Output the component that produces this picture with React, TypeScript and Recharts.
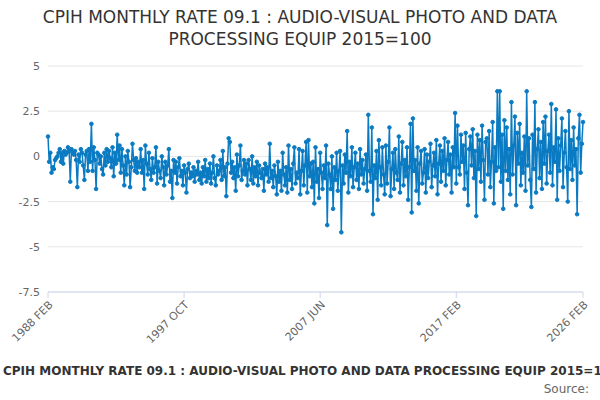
import { LineChart, Line, XAxis, YAxis, CartesianGrid } from "recharts";

const startYear = 1988;
const monthNames = ["JAN", "FEB", "MAR", "APR", "MAY", "JUN", "JUL", "AUG", "SEP", "OCT", "NOV", "DEC"];

// monthly rate, Feb 1988 .. Feb 2026 (one row per Feb..Jan year)
const rates = [
  1.1, -0.3, 0.2, -0.9, -0.6, -0.7, -0.2, -0.1, 0.0, 0.2, 0.4, -0.3,
  0.2, -0.4, 0.3, 0.1, 0.2, 0.5, 0.3, -1.4, 0.4, 0.2, 0.1, 0.3,
  -0.2, -1.7, 0.1, -0.3, 0.4, 0.2, -0.5, -1.3, 0.1, 0.3, -0.8, 0.4,
  -0.3, 1.8, -0.8, 0.5, -0.2, -1.8, 0.2, 0.1, -0.4, 0.0, -0.7, -1.0,
  0.2, -0.5, 0.4, -0.3, 0.3, -0.1, -0.6, 0.5, -1.1, 0.2, -0.4, 1.2,
  -0.2, 0.6, -0.9, 0.4, -0.5, -1.6, 0.0, -1.0, 0.3, -0.3, -1.7, -0.6,
  0.7, -0.2, -0.8, -0.1, -0.9, -0.3, -0.6, 0.4, -0.9, -0.2, -1.8, 0.6,
  -0.4, -1.0, 0.2, -0.7, -1.3, -0.1, -0.9, -0.6, 0.5, -1.5, -0.3, -0.8,
  -1.2, 0.0, -0.6, -1.6, -0.3, -1.0, -0.5, 0.4, -1.4, -0.8, -2.3, -0.2,
  -0.9, -0.3, -1.5, -0.6, -0.1, -1.1, -0.8, -1.6, -0.5, -0.9, -2.0, -0.7,
  -0.4, -1.2, -0.9, -1.1, -0.6, -1.4, -0.8, -1.0, -0.3, -1.3, -0.9, -1.5,
  -0.6, -1.1, -0.2, -1.4, -0.7, -1.2, -0.4, -1.5, -0.9, 0.0, -1.2, -1.6,
  -0.5, -1.0, -0.8, -0.2, -1.3, 0.3, -1.1, -0.6, -2.2, -0.4, 1.0, 0.8,
  -0.9, -0.3, -1.2, -0.6, -1.9, 0.1, -1.1, -0.5, 0.6, -1.3, -0.8, -0.2,
  -1.0, -0.4, -1.6, -0.2, -0.7, -1.3, 0.0, -1.5, -0.6, -1.1, -0.3, -1.6,
  -0.5, -0.9, -1.2, -0.7, -1.9, -0.4, -1.0, -0.6, -1.4, 0.7, -1.2, -0.8,
  -1.7, -0.5, -1.1, -2.1, -0.3, -1.4, -0.8, -1.9, 0.2, -1.0, -1.6, -0.6,
  -2.0, 0.6, -1.3, -0.7, -1.8, -0.4, 0.5, -1.5, -0.9, -1.2, 0.4, -2.1,
  -0.8, 0.3, -1.6, -0.5, 0.8, -2.0, 0.9, -1.1, -0.4, -1.7, -0.3, -2.6,
  0.5, -1.4, -0.7, -2.3, 0.2, -0.9, -1.8, -0.5, -1.2, 0.6, -3.8, -0.4,
  -1.0, -1.8, 0.0, -2.9, -0.6, -1.3, 0.2, -1.9, -0.8, 0.3, -4.2, -0.5,
  -1.5, 0.1, -0.9, 1.4, -2.0, -0.3, -1.1, 0.5, -1.7, -0.6, 0.2, -1.3,
  -0.4, -1.8, 0.4, -1.0, -0.2, -1.5, -0.7, 0.1, -1.9, 2.3, -0.8, -1.4,
  1.6, -3.2, -0.5, -1.2, 0.3, -2.4, 0.9, -0.6, -1.6, 0.5, -1.0, -2.1,
  0.6, -1.5, -0.3, 1.6, -2.2, -0.7, 0.2, -1.8, 0.4, -0.9, -1.3, 1.1,
  -2.0, -0.4, 0.8, -1.6, -0.2, -1.1, 0.5, -2.4, -0.6, 1.8, -3.1, 2.1,
  -0.8, -0.2, -1.9, 0.5, -2.6, -0.4, 0.3, -1.5, -0.9, 0.4, -2.0, 0.1,
  -1.2, -0.3, 0.7, -1.7, -0.5, 0.2, -1.1, 0.9, -2.1, -0.4, 0.6, -1.4,
  0.3, -0.8, 1.0, -1.6, -0.2, 0.8, -1.0, 0.1, -2.0, 0.5, -0.6, 2.4,
  -1.5, 1.7, -0.6, -1.0, 1.2, -0.3, 0.6, -1.8, 1.3, -0.9, -2.7, 0.4,
  1.1, -0.5, 1.5, -1.2, 0.3, -3.3, 1.2, -0.7, 0.9, -1.4, 1.7, -0.2,
  -2.4, 0.8, 1.0, -1.0, 1.4, -1.7, -0.3, 1.9, -2.6, 0.5, -0.8, 3.6,
  -0.6, 3.6, -1.4, 1.2, -2.9, 2.0, -0.8, 1.6, -1.3, 0.4, -2.1, 3.0,
  -1.0, 0.6, 2.2, -2.7, 1.3, -0.4, 1.8, -1.6, 0.2, -0.9, 1.1, -1.9,
  3.6, -0.5, 1.0, -1.3, -2.8, 1.2, -0.7, 3.0, -2.0, 0.4, 1.5, -1.2,
  0.8, -1.8, 1.9, -0.4, 2.2, -1.5, 0.3, 1.2, -0.9, 2.9, -1.6, 0.5,
  -0.3, 2.6, -2.4, 1.0, -0.8, 0.6, 2.1, -1.7, 0.2, 1.4, -0.6, -2.5,
  2.5, -0.7, 0.9, -1.3, 1.6, -0.5, 0.4, -3.2, 1.0, 2.3, -0.9, 0.7,
  1.9,
];

const xTicks = ["1988 FEB", "1997 OCT", "2007 JUN", "2017 FEB", "2026 FEB"];
const yTicks = [-7.5, -5, -2.5, 0, 2.5, 5];

const title = "CPIH MONTHLY RATE 09.1 : AUDIO-VISUAL PHOTO AND DATA PROCESSING EQUIP 2015=100";

const data = rates.map((value, i) => {
  const m = 1 + i;
  const year = startYear + Math.floor(m / 12);
  return { month: `${year} ${monthNames[m % 12]}`, value };
});

const font = "'DejaVu Sans', Verdana, sans-serif";

export default function App() {
  return (
    <div style={{ position: "absolute", left: 0, top: 0, width: 600, height: 400, background: "#fff", fontFamily: font, overflow: "hidden" }}>
      <div style={{ position: "absolute", top: 6, left: 40, width: 520, textAlign: "center", fontSize: 17, lineHeight: "22px", color: "#333" }}>
        {title}
      </div>
      <div style={{ position: "absolute", top: 0, left: 0 }}>
        <LineChart width={600} height={345} data={data} margin={{ top: 66, right: 17, bottom: 3, left: 8 }}>
          <CartesianGrid vertical={false} stroke="#e6e6e6" />
          <XAxis
            dataKey="month"
            ticks={xTicks}
            interval={0}
            height={50}
            stroke="#ccd6eb"
            tick={{ fill: "#666", fontSize: 11, angle: -45, textAnchor: "end" }}
          />
          <YAxis
            domain={[-7.5, 5]}
            ticks={yTicks}
            width={40}
            axisLine={false}
            tickLine={false}
            tick={{ fill: "#666", fontSize: 11 }}
          />
          <Line
            type="linear"
            dataKey="value"
            stroke="#0a7bc2"
            strokeWidth={1.5}
            dot={{ r: 1.8, fill: "#0a7bc2", stroke: "#0a7bc2", strokeWidth: 1 }}
            isAnimationActive={false}
          />
        </LineChart>
      </div>
      <div style={{ position: "absolute", top: 364, left: 3, whiteSpace: "nowrap", fontSize: 12, fontWeight: "bold", color: "#333" }}>
        {title}
      </div>
      <div style={{ position: "absolute", top: 382, right: 11, fontSize: 12, color: "#666" }}>Source:</div>
    </div>
  );
}
